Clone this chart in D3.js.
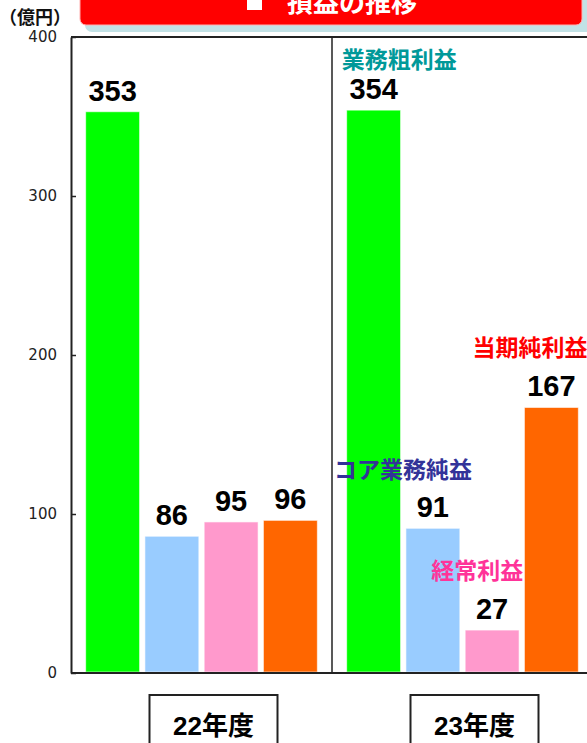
<!DOCTYPE html>
<html><head><meta charset="utf-8">
<script src="https://cdn.jsdelivr.net/npm/d3@7/dist/d3.min.js"></script>
<style>
html,body{margin:0;padding:0;background:#fff;overflow:hidden;}
svg{display:block;}
</style></head>
<body>
<svg id="chart" width="587" height="743"></svg>
<script>
// ---- data ----
const title = "損益の推移";
const unitLabel = "（億円）";
const years = ["22年度", "23年度"];
const seriesNames = ["業務粗利益", "コア業務純益", "経常利益", "当期純利益"];
const seriesColors = ["#00FF00", "#99CCFF", "#FF99CC", "#FF6600"];
const nameColors = ["#009999", "#333399", "#FF3399", "#FF0000"];
const values22 = [353, 86, 95, 96];
const values23 = [354, 91, 27, 167];
const yTicks = [0, 100, 200, 300, 400];

const valuesByYear = [values22, values23];

const svg = d3.select("#chart");
const jpFont = "'Liberation Sans','Noto Sans CJK JP',sans-serif";

// layout
const plotLeft = 71, plotRight = 593, plotTop = 37, plotBottom = 673;

const y = d3.scaleLinear().domain([0, 400]).range([plotBottom, plotTop]);
const xGroup = d3.scaleBand().domain(years).range([plotLeft, plotRight]).padding(0);
const xBar = d3.scaleBand().domain(seriesNames)
  .range([12, xGroup.bandwidth() - 12]).paddingInner(0.09).paddingOuter(0.045);

// ---- title banner ----
const banner = svg.append("g");
banner.append("rect").attr("x", 85).attr("y", -20).attr("width", 520).attr("height", 52)
  .attr("rx", 7).attr("fill", "#C2E2E6");
banner.append("rect").attr("x", 80).attr("y", -20).attr("width", 502).attr("height", 45)
  .attr("rx", 6).attr("fill", "#FF0000").attr("stroke", "#FFB0B0").attr("stroke-width", 1);
banner.append("rect").attr("x", 247).attr("y", -4).attr("width", 15).attr("height", 14).attr("fill", "#fff");
banner.append("text").attr("x", 287).attr("y", 12)
  .attr("font-family", jpFont).attr("font-weight", "bold").attr("font-size", 26)
  .attr("fill", "#fff").text(title);

// unit label
svg.append("text").attr("x", -1).attr("y", 24)
  .attr("font-family", "'Noto Sans CJK JP',sans-serif").attr("font-weight", "bold").attr("font-size", 18)
  .attr("fill", "#111").text(unitLabel);

// ---- bars ----
const groups = svg.selectAll("g.year").data(years).join("g")
  .attr("class", "year")
  .attr("transform", d => `translate(${xGroup(d)},0)`);

groups.each(function(yr, gi) {
  const g = d3.select(this);
  const vals = valuesByYear[gi];
  g.selectAll("rect.bar").data(vals).join("rect")
    .attr("class", "bar")
    .attr("x", (d, i) => xBar(seriesNames[i]))
    .attr("width", xBar.bandwidth())
    .attr("y", d => y(d))
    .attr("height", d => y(0) - y(d) - 1)
    .attr("fill", (d, i) => seriesColors[i])
    .attr("stroke", "#fff").attr("stroke-opacity", 0.6).attr("stroke-width", 1);
  g.selectAll("text.val").data(vals).join("text")
    .attr("class", "val")
    .attr("x", (d, i) => xBar(seriesNames[i]) + xBar.bandwidth() / 2)
    .attr("y", d => y(d) - 11)
    .attr("text-anchor", "middle")
    .attr("font-family", "'Liberation Sans',Arial,sans-serif")
    .attr("font-weight", "bold").attr("font-size", 29)
    .attr("fill", "#000")
    .text(d => d);
});

// series name annotations in the 23年度 group
const annOffsets = [
  {dx: -5, dy: -31},
  {dx: -72, dy: -39},
  {dx: -34, dy: -40},
  {dx: -52, dy: -40}
];
const g23 = xGroup(years[1]);
svg.selectAll("text.name").data(seriesNames).join("text")
  .attr("class", "name")
  .attr("x", (d, i) => g23 + xBar(d) + annOffsets[i].dx)
  .attr("y", (d, i) => y(values23[i]) - 11 + annOffsets[i].dy)
  .attr("font-family", "'Noto Sans CJK JP',sans-serif")
  .attr("font-weight", "bold").attr("font-size", 23)
  .attr("fill", (d, i) => nameColors[i])
  .text(d => d);

// ---- frame & axes ----
const frame = svg.append("g").attr("stroke", "#222").attr("fill", "none");
frame.append("line").attr("x1", plotLeft).attr("x2", 600).attr("y1", plotTop).attr("y2", plotTop).attr("stroke-width", 2);
frame.append("line").attr("x1", xGroup(years[1]) ).attr("x2", xGroup(years[1]))
  .attr("y1", plotTop).attr("y2", plotBottom).attr("stroke-width", 1.5);
frame.append("line").attr("x1", plotLeft).attr("x2", 600).attr("y1", plotBottom).attr("y2", plotBottom).attr("stroke-width", 2);

const yAxis = d3.axisLeft(y).tickValues(yTicks).tickSize(-5).tickSizeOuter(0).tickPadding(14);
const ya = svg.append("g").attr("transform", `translate(${plotLeft},0)`).call(yAxis);
ya.select(".domain").attr("stroke", "#222").attr("stroke-width", 2);
ya.selectAll(".tick line").attr("stroke", "#222").attr("stroke-width", 1.5);
ya.selectAll(".tick text").attr("font-family", "'DejaVu Sans',sans-serif")
  .attr("font-size", 15).attr("fill", "#222");

// ---- year boxes ----
const yb = svg.selectAll("g.ybox").data(years).join("g").attr("class", "ybox")
  .attr("transform", d => `translate(${xGroup(d) + xGroup.bandwidth() / 2 + 12},0)`);
yb.append("rect").attr("x", -64).attr("y", 695).attr("width", 128).attr("height", 70)
  .attr("fill", "#fff").attr("stroke", "#222").attr("stroke-width", 2);
yb.append("text").attr("x", 0).attr("y", 735).attr("text-anchor", "middle")
  .attr("font-family", jpFont).attr("font-weight", "bold").attr("font-size", 26)
  .attr("fill", "#000").text(d => d);
</script>
</body></html>
